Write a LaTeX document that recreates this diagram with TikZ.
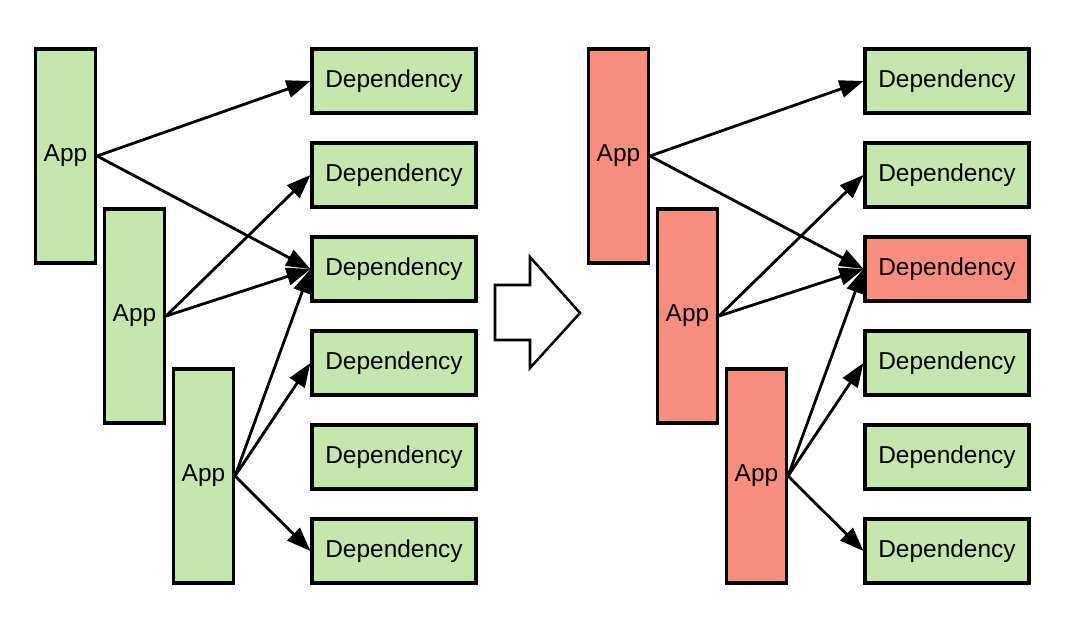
\documentclass[tikz,border=0pt]{standalone}
\usepackage{xcolor}
\usepackage{fontspec}
\setmainfont{Liberation Sans}
\usepackage{tikz}
\usetikzlibrary{arrows.meta,positioning}

\definecolor{okgreen}{HTML}{C6E7AC}
\definecolor{badred}{HTML}{F98E7E}

\begin{document}
\begin{tikzpicture}[
    app/.style={rectangle, draw, line width=2.2pt, minimum width=1.5cm, minimum height=5.35cm, inner sep=0pt, font=\fontsize{17.4}{20}\selectfont},
    lib/.style={rectangle, draw, line width=2.2pt, minimum width=4.1cm, minimum height=1.6cm, inner sep=0pt, font=\fontsize{17.4}{20}\selectfont},
    dep/.style={-{Triangle[length=0.6cm,width=0.44cm]}, line width=2pt}
]
    \useasboundingbox (0,0) rectangle (26.7,-15.5);

    % Before: apps
    \node[app, fill=okgreen] (app1) at (1.6375,-3.9) {App};
    \node[app, fill=okgreen] (app2) at (3.3625,-7.9) {App};
    \node[app, fill=okgreen] (app3) at (5.0875,-11.9) {App};

    % Before: dependencies
    \node[lib, fill=okgreen] (dep1) at (9.85,-2.025) {Dependency};
    \node[lib, fill=okgreen] (dep2) at (9.85,-4.375) {Dependency};
    \node[lib, fill=okgreen] (dep3) at (9.85,-6.725) {Dependency};
    \node[lib, fill=okgreen] (dep4) at (9.85,-9.075) {Dependency};
    \node[lib, fill=okgreen] (dep5) at (9.85,-11.425) {Dependency};
    \node[lib, fill=okgreen] (dep6) at (9.85,-13.775) {Dependency};

    % Before: links
    \draw[dep] (app1.east) -- (dep1.west);
    \draw[dep] (app1.east) -- (dep3.west);
    \draw[dep] (app2.east) -- (dep2.west);
    \draw[dep] (app2.east) -- (dep3.west);
    \draw[dep] (app3.east) -- (dep3.west);
    \draw[dep] (app3.east) -- (dep4.west);
    \draw[dep] (app3.east) -- (dep6.west);

    % Big arrow
    \draw[line width=1.8pt, line join=miter, fill=white]
        (12.375,-7.125) -- (13.25,-7.125) -- (13.25,-6.425) -- (14.5,-7.825)
        -- (13.25,-9.2) -- (13.25,-8.5) -- (12.375,-8.5) -- cycle;

    % After: apps
    \node[app, fill=badred] (rapp1) at (15.4625,-3.9) {App};
    \node[app, fill=badred] (rapp2) at (17.1875,-7.9) {App};
    \node[app, fill=badred] (rapp3) at (18.9125,-11.9) {App};

    % After: dependencies
    \node[lib, fill=okgreen] (rdep1) at (23.675,-2.025) {Dependency};
    \node[lib, fill=okgreen] (rdep2) at (23.675,-4.375) {Dependency};
    \node[lib, fill=badred] (rdep3) at (23.675,-6.725) {Dependency};
    \node[lib, fill=okgreen] (rdep4) at (23.675,-9.075) {Dependency};
    \node[lib, fill=okgreen] (rdep5) at (23.675,-11.425) {Dependency};
    \node[lib, fill=okgreen] (rdep6) at (23.675,-13.775) {Dependency};

    % After: links
    \draw[dep] (rapp1.east) -- (rdep1.west);
    \draw[dep] (rapp1.east) -- (rdep3.west);
    \draw[dep] (rapp2.east) -- (rdep2.west);
    \draw[dep] (rapp2.east) -- (rdep3.west);
    \draw[dep] (rapp3.east) -- (rdep3.west);
    \draw[dep] (rapp3.east) -- (rdep4.west);
    \draw[dep] (rapp3.east) -- (rdep6.west);
\end{tikzpicture}
\end{document}
